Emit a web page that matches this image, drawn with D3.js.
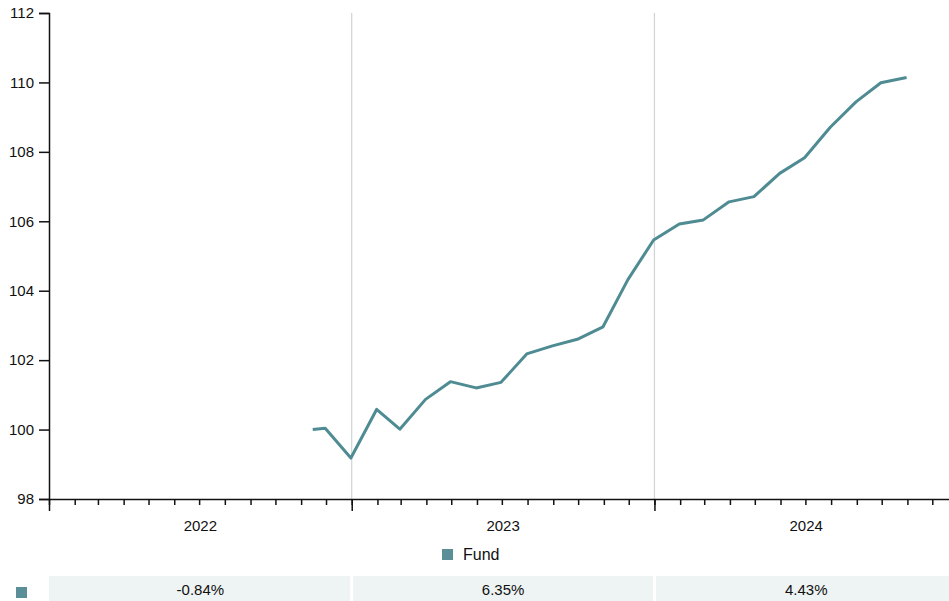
<!DOCTYPE html>
<html>
<head>
<meta charset="utf-8">
<script src="https://cdn.jsdelivr.net/npm/d3@7"></script>
<style>
  body { margin: 0; background: #fff; }
  svg { display: block; overflow: hidden; font-family: "Liberation Sans", Arial, sans-serif; }
</style>
</head>
<body>
<div id="container"></div>
<script>
/* ---------- DATA ---------- */
const dates = [
  "2022-11-15", "2022-11-30", "2022-12-31",
  "2023-01-31", "2023-02-28", "2023-03-31", "2023-04-30", "2023-05-31", "2023-06-30",
  "2023-07-31", "2023-08-31", "2023-09-30", "2023-10-31", "2023-11-30", "2023-12-31",
  "2024-01-31", "2024-02-29", "2024-03-31", "2024-04-30", "2024-05-31", "2024-06-30",
  "2024-07-31", "2024-08-31", "2024-09-30", "2024-10-31", "2024-11-30"
];
const fundValues = [
  100.0, 100.04, 99.18,
  100.58, 100.01, 100.87, 101.38, 101.2, 101.36,
  102.18, 102.41, 102.6, 102.96, 104.32, 105.46,
  105.92, 106.04, 106.56, 106.71, 107.38, 107.83,
  108.71, 109.44, 109.99, 110.14
];
const years = ["2022", "2023", "2024"];
const yearReturns = ["-0.84%", "6.35%", "4.43%"];
const yTicks = [98, 100, 102, 104, 106, 108, 110, 112];
const seriesName = "Fund";

/* ---------- CONSTANTS ---------- */
const width = 949,
  height = 601,
  margin = { top: 13, left: 49, bottom: 102 },
  lineColor = "#4e8b92";

const parse = d3.timeParse("%Y-%m-%d");
// the first date is the inception, values follow it one per month-end
const points = fundValues.map((v, i) => ({ date: parse(dates[i]), value: v }));

const xScale = d3.scaleTime()
  .domain([new Date(2022, 0, 1), new Date(2025, 0, 1)])
  .range([margin.left, 958]);

const yScale = d3.scaleLinear()
  .domain([98, 112])
  .range([height - margin.bottom, margin.top]);

const svg = d3.select("#container")
  .append("svg")
  .attr("width", width)
  .attr("height", height);

// + YEAR GRID LINES
svg.append("g")
  .selectAll("line")
  .data(years.slice(1))
  .join("line")
  .attr("x1", d => xScale(new Date(+d, 0, 1)))
  .attr("x2", d => xScale(new Date(+d, 0, 1)))
  .attr("y1", yScale(112))
  .attr("y2", yScale(98))
  .attr("stroke", "#cfd3d6")
  .attr("stroke-width", 1.2);

// + AXES
const yAxis = d3.axisLeft(yScale)
  .tickValues(yTicks)
  .tickSize(10)
  .tickPadding(5);

svg.append("g")
  .attr("transform", `translate(${margin.left},0)`)
  .call(yAxis)
  .attr("font-family", null)
  .attr("font-size", 15)
  .call(g => g.selectAll("text").attr("fill", "#111"))
  .call(g => g.selectAll("line, path").attr("stroke", "#111").attr("stroke-width", 1.5));

// monthly minor ticks
const xMinor = d3.axisBottom(xScale)
  .ticks(d3.timeMonth.every(1))
  .tickSize(6)
  .tickSizeOuter(0)
  .tickFormat("");

svg.append("g")
  .attr("transform", `translate(0,${yScale(98)})`)
  .call(xMinor)
  .call(g => g.selectAll("line, path").attr("stroke", "#111").attr("stroke-width", 1.5));

// yearly major ticks
const xMajor = d3.axisBottom(xScale)
  .ticks(d3.timeYear.every(1))
  .tickSize(12)
  .tickFormat("");

svg.append("g")
  .attr("transform", `translate(0,${yScale(98)})`)
  .call(xMajor)
  .call(g => g.select(".domain").remove())
  .call(g => g.selectAll("line").attr("stroke", "#111").attr("stroke-width", 1.5));

// year labels centered in each year
svg.append("g")
  .selectAll("text")
  .data(years)
  .join("text")
  .attr("x", d => (xScale(new Date(+d, 0, 1)) + xScale(new Date(+d + 1, 0, 1))) / 2)
  .attr("y", 531)
  .attr("text-anchor", "middle")
  .attr("font-size", 15)
  .attr("fill", "#111")
  .text(d => d);

// + LINE
const line = d3.line()
  .x(d => xScale(d.date))
  .y(d => yScale(d.value));

svg.append("path")
  .datum(points)
  .attr("fill", "none")
  .attr("stroke", lineColor)
  .attr("stroke-width", 3)
  .attr("stroke-linejoin", "round")
  .attr("d", line);

// + LEGEND
const legend = svg.append("g").attr("transform", "translate(442,549)");
legend.append("rect")
  .attr("width", 11).attr("height", 11)
  .attr("fill", "#5a8f97");
legend.append("text")
  .attr("x", 21).attr("y", 11)
  .attr("font-size", 16)
  .attr("fill", "#111")
  .text(seriesName);

// + ANNUAL RETURNS ROW
svg.append("rect")
  .attr("x", 16).attr("y", 587)
  .attr("width", 11).attr("height", 11)
  .attr("fill", "#5a8f97");

const cells = svg.append("g")
  .selectAll("g")
  .data(years)
  .join("g");

cells.append("rect")
  .attr("x", (d, i) => xScale(new Date(+d, 0, 1)) + (i === 0 ? 0 : 1.5))
  .attr("y", 576)
  .attr("width", (d, i) => xScale(new Date(+d + 1, 0, 1)) - xScale(new Date(+d, 0, 1)) - (i === 0 ? 1.5 : 3))
  .attr("height", 25)
  .attr("fill", "#eef3f3");

cells.append("text")
  .attr("x", d => (xScale(new Date(+d, 0, 1)) + xScale(new Date(+d + 1, 0, 1))) / 2)
  .attr("y", 595)
  .attr("text-anchor", "middle")
  .attr("font-size", 15)
  .attr("fill", "#111")
  .text((d, i) => yearReturns[i]);
</script>
</body>
</html>
